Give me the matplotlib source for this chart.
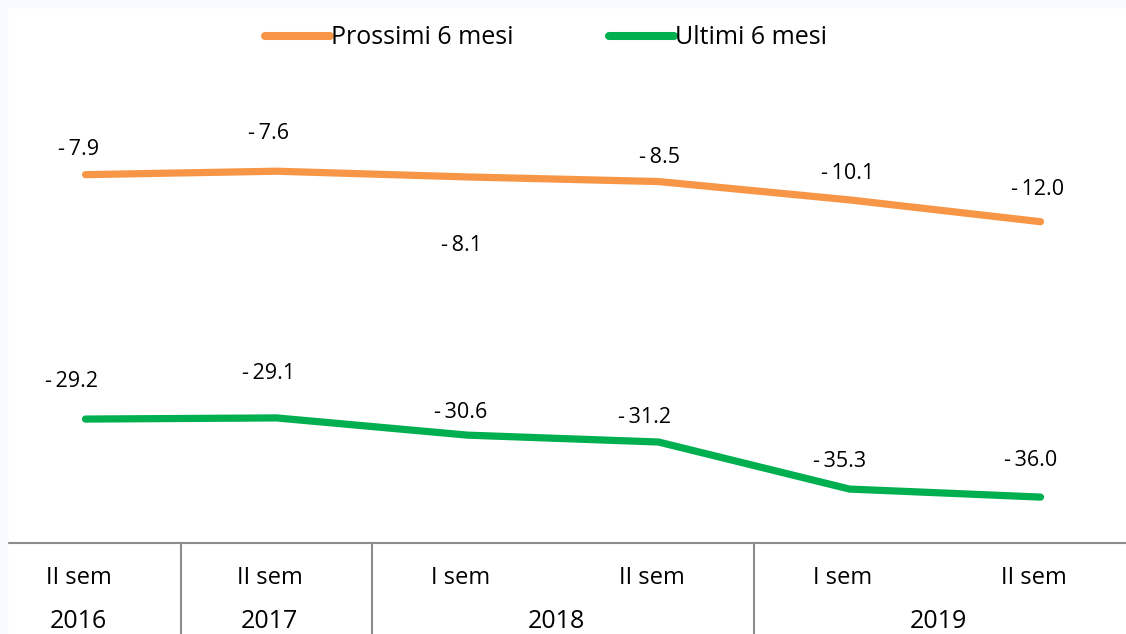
import matplotlib
matplotlib.use("Agg")
import matplotlib.pyplot as plt
import matplotlib.transforms as mtransforms
from matplotlib.lines import Line2D

periods = ["II sem", "II sem", "I sem", "II sem", "I sem", "II sem"]
years = ["2016", "2017", "2018", "2019"]
year_spans = [(0, 0), (1, 1), (2, 3), (4, 5)]
prossimi = [-7.9, -7.6, -8.1, -8.5, -10.1, -12.0]
ultimi = [-29.2, -29.1, -30.6, -31.2, -35.3, -36.0]
series_names = ["Prossimi 6 mesi", "Ultimi 6 mesi"]

ORANGE = "#F79646"
GREEN = "#00B050"
GRAY = "#8C8C8C"
FONT = ["Open Sans", "DejaVu Sans"]
plt.rcParams["font.family"] = FONT

W, H = 1126, 634
fig = plt.figure(figsize=(W / 100, H / 100), dpi=100)
fig.patch.set_facecolor("white")
# faint page strips
fig.patches.append(plt.Rectangle((0, 1 - 7 / H), 1, 7 / H, transform=fig.transFigure,
                                 color="#F7F9FE", zorder=0))
fig.patches.append(plt.Rectangle((0, 0), 7 / W, 1, transform=fig.transFigure,
                                 color="#F7F9FE", zorder=0))

left_px, right_px = -10, 1136
top_px, bot_px = 84, 543
ax = fig.add_axes([left_px / W, 1 - bot_px / H, (right_px - left_px) / W, (bot_px - top_px) / H])
ax.set_facecolor("none")
ax.set_xlim(-0.5, len(periods) - 0.5)
ax.set_ylim(-40, 0)
for s in ["top", "right", "left"]:
    ax.spines[s].set_visible(False)
ax.spines["bottom"].set_color(GRAY)
ax.spines["bottom"].set_linewidth(1.5)
ax.set_xticks([])
ax.set_yticks([])

x = list(range(len(periods)))
ax.plot(x, prossimi, color=ORANGE, lw=5.2, solid_capstyle="round", solid_joinstyle="round")
ax.plot(x, ultimi, color=GREEN, lw=5.2, solid_capstyle="round", solid_joinstyle="round")

def fmt(v):
    return ("-\u2009" if v < 0 else "") + "{:.1f}".format(abs(v))

# label offsets in points (dx, dy)
off_p = [(-5, 18), (-6, 27), (-4, -49), (1, 17), (-1, 19), (-2, 23)]
off_u = [(-10, 27), (-6, 32), (-5, 16), (-10, 18), (-7, 20), (-7, 26)]
for i, v in enumerate(prossimi):
    ax.annotate(fmt(v), (i, v), xytext=off_p[i], textcoords="offset points",
                ha="center", va="center", fontsize=15.5, color="#000000")
for i, v in enumerate(ultimi):
    ax.annotate(fmt(v), (i, v), xytext=off_u[i], textcoords="offset points",
                ha="center", va="center", fontsize=15.5, color="#000000")

# category axis
trans = mtransforms.blended_transform_factory(ax.transData, fig.transFigure)
shift = mtransforms.ScaledTranslation(-7 / 100, 0, fig.dpi_scale_trans)
for i, p in enumerate(periods):
    fig.text(i, 1 - 578 / H, p, transform=trans + shift, ha="center", va="center", fontsize=17)
for (a, b), yr in zip(year_spans, years):
    fig.text((a + b) / 2, 1 - 622 / H, yr, transform=trans + shift, ha="center", va="center", fontsize=18)
for (a, b) in year_spans[:-1]:
    xb = b + 0.5
    fig.add_artist(Line2D([xb, xb], [0, 1 - bot_px / H], transform=trans, color=GRAY, lw=1.5))

# legend
handles = [Line2D([], [], color=ORANGE, lw=5.8, solid_capstyle="round"),
           Line2D([], [], color=GREEN, lw=5.8, solid_capstyle="round")]
fig.legend(handles, series_names, loc="center", bbox_to_anchor=(546 / W, 1 - 38 / H), ncol=2,
           frameon=False, fontsize=18, handlelength=2.6, handletextpad=0.05, columnspacing=3.8)

fig.savefig("out.png", dpi=100)
